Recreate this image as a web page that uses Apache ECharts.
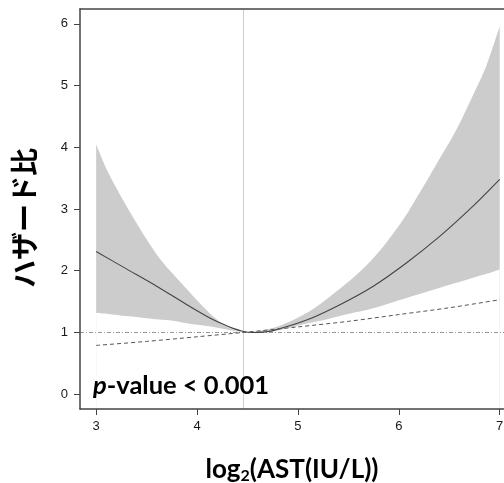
<!DOCTYPE html>
<html>
<head>
<meta charset="utf-8">
<script src="https://cdn.jsdelivr.net/npm/echarts@6/dist/echarts.min.js"></script>
<style>
html,body{margin:0;padding:0;background:#fff;overflow:hidden;}
#chart{width:504px;height:483px;}
</style>
</head>
<body>
<div id="chart"></div>
<script>
// ---- data ----
var xTickValues = [3, 4, 5, 6, 7];
var yTickValues = [0, 1, 2, 3, 4, 5, 6];
var refX = 4.457;
var refHR = 1;

// confidence band (shared x grid)
var bandX     = [3.0, 3.12, 3.3, 3.5, 3.62, 3.76, 3.9, 4.03, 4.16, 4.29, 4.457, 4.6, 4.82, 5.09, 5.3, 5.53, 5.7, 5.85, 6.0, 6.08, 6.18, 6.36, 6.56, 6.72, 6.87, 7.0];
var bandUpper = [4.05, 3.59, 3.05, 2.51, 2.22, 1.95, 1.70, 1.47, 1.26, 1.10, 1.00, 1.02, 1.11, 1.32, 1.56, 1.86, 2.12, 2.40, 2.73, 2.92, 3.19, 3.69, 4.25, 4.79, 5.33, 5.96];
var bandLower = [1.32, 1.30, 1.265, 1.23, 1.21, 1.19, 1.15, 1.12, 1.09, 1.05, 1.00, 1.00, 1.04, 1.145, 1.22, 1.31, 1.37, 1.44, 1.52, 1.56, 1.61, 1.70, 1.80, 1.88, 1.95, 2.02];

// spline hazard ratio curve
var curveX  = [3.0, 3.3, 3.6, 3.9, 4.1, 4.25, 4.35, 4.45, 4.55, 4.65, 4.755, 5.086, 5.416, 5.747, 6.078, 6.408, 6.738, 7.0];
var curveHR = [2.31, 2.03, 1.75, 1.45, 1.26, 1.14, 1.07, 1.02, 1.00, 1.005, 1.03, 1.20, 1.45, 1.75, 2.13, 2.56, 3.05, 3.48];

// linear-model hazard ratio (dashed)
var linX  = [3.0, 3.5, 4.0, 4.457, 5.0, 5.5, 6.0, 6.5, 7.0];
var linHR = [0.79, 0.855, 0.93, 1.00, 1.09, 1.18, 1.29, 1.40, 1.53];

var yTitle = 'ハザード比';
var pText = '-value < 0.001';

function zip(a, b) { return a.map(function (v, i) { return [v, b[i]]; }); }

var chart = echarts.init(document.getElementById('chart'), null, {renderer: 'canvas'});

var tickFont = {fontFamily: '"Liberation Sans", Arial, sans-serif', fontSize: 13, color: '#1a1a1a'};
var latin = 'Lato, "Open Sans", sans-serif';
var frame = {color: '#444', width: 1.5};
var xMin = 2.84, xMax = 7.0426;

var option = {
  backgroundColor: '#fff',
  animation: false,
  grid: {left: 80, top: 9, right: 0, height: 400, show: false, containLabel: false, outerBoundsMode: 'none'},
  xAxis: [{
    type: 'value', min: xMin, max: xMax, position: 'bottom', z: 10,
    axisLine: {show: true, onZero: false, lineStyle: frame},
    axisTick: {show: true, length: 6, lineStyle: {color: '#444', width: 1}, customValues: xTickValues},
    axisLabel: Object.assign({margin: 11, customValues: xTickValues}, tickFont),
    splitLine: {show: false},
    name: '{a|log}{s|2}{a|(AST(IU/L))}',
    nameLocation: 'middle', nameGap: 47,
    nameTextStyle: {
      rich: {
        a: {fontFamily: latin, fontWeight: 'bold', fontSize: 26, color: '#000'},
        s: {fontFamily: latin, fontWeight: 'bold', fontSize: 16, color: '#000', padding: [12, 0, 0, 0]}
      }
    }
  }, {
    type: 'value', min: xMin, max: xMax, position: 'top', z: 10,
    axisLine: {show: true, onZero: false, lineStyle: frame},
    axisTick: {show: false}, axisLabel: {show: false}, splitLine: {show: false}
  }],
  yAxis: {
    type: 'value', min: -0.24, max: 6.24, z: 10,
    axisLine: {show: true, onZero: false, lineStyle: frame},
    axisTick: {show: true, length: 6, lineStyle: {color: '#444', width: 1}, customValues: yTickValues},
    axisLabel: Object.assign({margin: 12, customValues: yTickValues}, tickFont),
    splitLine: {show: false},
    name: yTitle, nameLocation: 'middle', nameGap: 42, nameRotate: 90,
    nameTextStyle: {fontFamily: '"Noto Sans CJK JP", sans-serif', fontWeight: 'bold', fontSize: 28, color: '#000', padding: [0, 18, 0, 0]}
  },
  graphic: [{
    type: 'text', left: 93, top: 373, z: 100,
    style: {
      text: '{i|p}{b|' + pText + '}',
      rich: {
        i: {fontFamily: latin, fontWeight: 'bold', fontStyle: 'italic', fontSize: 25.5, fill: '#000'},
        b: {fontFamily: latin, fontWeight: 'bold', fontSize: 25.5, fill: '#000'}
      }
    }
  }],
  series: [
    {
      // upper CI edge, grey fill down to the axis
      type: 'line', z: 1, data: zip(bandX, bandUpper), showSymbol: false, smooth: 0.3, silent: true,
      lineStyle: {width: 0, opacity: 0}, areaStyle: {color: '#cccccc', opacity: 1, origin: 'start'}
    },
    {
      // lower CI edge, white fill down to the axis (cuts the band out)
      type: 'line', z: 2, data: zip(bandX, bandLower), showSymbol: false, smooth: 0.3, silent: true,
      lineStyle: {width: 0, opacity: 0}, areaStyle: {color: '#ffffff', opacity: 1, origin: 'start'}
    },
    {
      type: 'line', z: 4, data: [], silent: true,
      markLine: {
        silent: true, symbol: ['none', 'none'], label: {show: false},
        data: [
          {yAxis: refHR, lineStyle: {color: '#999', width: 1, type: [4, 2, 1, 2]}},
          {xAxis: refX, lineStyle: {color: '#cfcfcf', width: 1, type: 'solid'}}
        ]
      }
    },
    {
      type: 'line', z: 5, data: zip(curveX, curveHR), showSymbol: false, smooth: 0.3,
      lineStyle: {color: '#444', width: 1.1}
    },
    {
      type: 'line', z: 5, data: zip(linX, linHR), showSymbol: false, smooth: 0.3,
      lineStyle: {color: '#555', width: 1, type: [4, 3]}
    }
  ]
};
chart.setOption(option);
</script>
</body>
</html>
